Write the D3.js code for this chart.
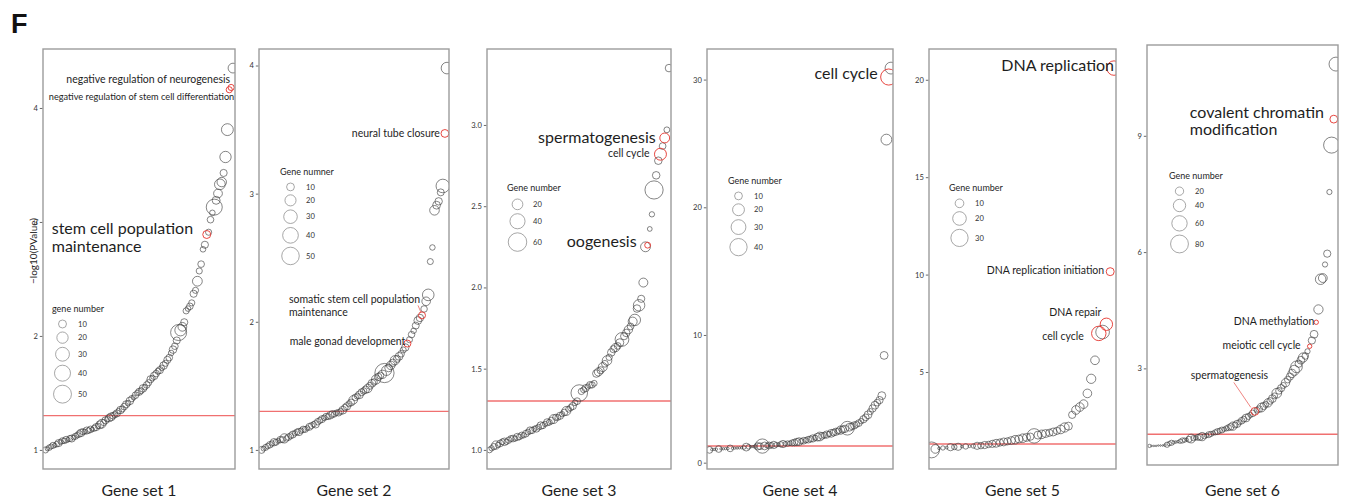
<!DOCTYPE html>
<html>
<head>
<meta charset="utf-8">
<script src="https://cdn.jsdelivr.net/npm/d3@7"></script>
<style>
  body { margin: 0; background: #fff; }
  svg text { font-family: Lato, "Open Sans", "DejaVu Sans", sans-serif; }
</style>
</head>
<body>
<svg id="chart" width="1348" height="501"></svg>
<script>
// ---- data: GO terms ranked by significance, one array pair per gene set ----
const setNames = ["Gene set 1", "Gene set 2", "Gene set 3", "Gene set 4", "Gene set 5", "Gene set 6"];
const pCutoff = 0.05;
const yLabel = "\u2212log10(PValue)";

const logP1 = [1.00,1.01,1.02,1.03,1.04,1.04,1.05,1.06,1.07,1.08,
  1.08,1.09,1.09,1.10,1.10,1.11,1.12,1.13,1.14,1.15,
  1.16,1.16,1.17,1.17,1.18,1.18,1.19,1.20,1.21,1.22,
  1.23,1.24,1.26,1.27,1.28,1.29,1.30,1.31,1.32,1.34,
  1.35,1.36,1.38,1.40,1.41,1.43,1.45,1.46,1.48,1.50,
  1.51,1.52,1.54,1.55,1.57,1.59,1.62,1.63,1.65,1.67,
  1.69,1.70,1.72,1.74,1.76,1.79,1.81,1.85,1.88,1.91,
  1.96,2.03,2.05,2.08,2.12,2.22,2.24,2.26,2.29,2.37,
  2.40,2.48,2.57,2.63,2.76,2.80,2.89,2.91,3.02,3.08,
  3.13,3.19,3.25,3.33,3.35,3.43,3.57,3.81,4.16,4.18,4.35];
const genes1 = [6,3,5,4,6,3,5,8,4,6,
  5,7,3,6,8,4,6,5,7,9,
  6,4,8,5,7,3,6,8,5,10,
  12,6,8,5,9,10,7,6,8,5,
  9,6,7,8,5,9,6,4,7,5,
  8,6,9,5,7,6,8,5,9,7,
  6,8,5,9,6,8,7,5,9,7,
  8,40,20,12,8,6,5,7,6,8,
  6,15,6,7,5,8,10,6,7,5,
  40,10,12,18,14,8,20,22,6,6,15];
const terms1 = [[87, "stem cell population\nmaintenance"],
  [99, "negative regulation of stem cell differentiation"],
  [100, "negative regulation of neurogenesis"]];

const logP2 = [1.00,1.01,1.02,1.03,1.04,1.05,1.06,1.06,1.07,1.08,
  1.08,1.09,1.09,1.10,1.11,1.12,1.13,1.14,1.14,1.15,
  1.16,1.16,1.17,1.18,1.19,1.20,1.20,1.22,1.23,1.24,
  1.25,1.26,1.26,1.27,1.28,1.28,1.29,1.29,1.30,1.31,
  1.33,1.34,1.36,1.37,1.39,1.41,1.42,1.43,1.45,1.46,
  1.47,1.48,1.50,1.52,1.53,1.55,1.57,1.58,1.59,1.60,
  1.62,1.64,1.66,1.68,1.70,1.71,1.73,1.75,1.78,1.80,
  1.83,1.86,1.90,1.93,1.97,2.01,2.03,2.05,2.10,2.16,
  2.21,2.47,2.58,2.87,2.91,2.94,3.01,3.06,3.47,3.98];
const genes2 = [8,4,6,5,7,5,9,6,4,7,
  6,14,5,7,6,8,5,6,9,5,
  7,6,4,8,6,5,9,7,6,8,
  5,7,6,9,8,6,5,7,6,10,
  7,9,6,8,12,7,6,10,8,7,
  9,12,8,10,7,14,9,8,11,60,
  16,10,12,9,14,8,10,7,6,9,
  8,6,7,5,8,10,9,8,7,12,
  22,6,5,15,10,9,8,30,10,22];
const terms2 = [[89, "neural tube closure"],
  [78, "somatic stem cell population\nmaintenance"],
  [71, "male gonad development"]];

const logP3 = [1.00,1.01,1.02,1.03,1.03,1.04,1.05,1.05,1.05,1.06,
  1.07,1.07,1.07,1.08,1.08,1.09,1.09,1.10,1.11,1.12,
  1.12,1.13,1.13,1.14,1.15,1.15,1.16,1.17,1.17,1.18,
  1.19,1.20,1.20,1.21,1.22,1.23,1.24,1.25,1.26,1.27,
  1.29,1.30,1.35,1.36,1.37,1.38,1.39,1.40,1.40,1.41,
  1.47,1.48,1.49,1.51,1.53,1.55,1.57,1.60,1.62,1.63,
  1.64,1.66,1.68,1.70,1.72,1.74,1.76,1.79,1.80,1.87,
  1.89,1.93,2.03,2.25,2.26,2.36,2.45,2.60,2.69,2.78,
  2.82,2.87,2.92,2.97,3.35];
const genes3 = [6,5,7,12,5,8,6,10,5,7,
  6,8,5,9,6,7,5,8,6,9,
  7,5,8,6,10,7,5,9,6,8,
  14,7,6,9,5,8,14,6,7,9,
  6,8,48,7,6,9,5,8,7,6,
  10,12,9,14,8,16,7,10,9,12,
  8,11,33,9,10,12,8,14,23,10,
  23,9,14,17,6,4,5,58,10,10,
  25,8,17,6,10];
const terms3 = [[83, "spermatogenesis"], [81, "cell cycle"], [75, "oogenesis"]];

const logP4 = [1.00,1.02,1.04,1.05,1.07,1.08,1.09,1.10,1.11,1.12,
  1.13,1.14,1.15,1.16,1.17,1.19,1.22,1.24,1.25,1.26,
  1.27,1.28,1.29,1.30,1.31,1.33,1.35,1.37,1.39,1.40,
  1.42,1.44,1.46,1.48,1.50,1.52,1.55,1.58,1.62,1.65,
  1.68,1.72,1.76,1.80,1.85,1.90,1.95,2.00,2.05,2.10,
  2.15,2.20,2.25,2.30,2.36,2.42,2.48,2.55,2.60,2.65,
  2.70,2.78,2.85,2.92,3.00,3.10,3.25,3.40,3.55,3.75,
  4.00,4.25,4.50,4.70,4.90,5.25,8.40,25.3,30.2,30.9];
const genes4 = [8,3,3,3,8,3,3,3,3,8,
  3,3,3,3,3,4,10,5,3,3,
  4,9,8,28,10,5,8,6,9,5,
  4,6,9,5,6,5,7,8,9,10,
  6,8,6,8,7,9,6,10,12,8,
  7,9,6,10,8,9,7,11,9,9,
  26,10,8,9,7,8,6,9,8,10,
  7,9,10,8,9,10,10,17,35,20];
const terms4 = [[79, "cell cycle"]];

const logP5 = [1.00,1.05,1.08,1.10,1.12,1.14,1.15,1.16,1.17,1.18,
  1.19,1.20,1.21,1.22,1.25,1.28,1.31,1.34,1.38,1.41,
  1.44,1.48,1.52,1.56,1.60,1.64,1.68,1.72,1.76,1.80,
  1.84,1.88,1.92,1.98,2.05,2.15,2.22,2.80,3.05,3.20,
  3.35,3.90,4.65,5.60,6.98,7.05,7.45,10.15,20.6];
const genes5 = [26,10,4,5,4,8,6,8,4,6,
  4,5,8,7,8,7,8,9,8,9,
  8,9,10,9,10,9,8,22,9,10,
  9,8,9,8,10,11,9,8,10,10,
  10,10,11,10,22,20,17,9,22];
const terms5 = [[49, "DNA replication"], [48, "DNA replication initiation"],
  [47, "DNA repair"], [45, "cell cycle"]];

const logP6 = [1.00,1.00,1.00,1.00,1.01,1.01,1.01,1.02,1.03,1.06,
  1.08,1.09,1.10,1.11,1.12,1.14,1.15,1.16,1.17,1.19,
  1.20,1.21,1.22,1.23,1.24,1.25,1.27,1.29,1.31,1.33,
  1.35,1.37,1.39,1.41,1.43,1.45,1.47,1.49,1.51,1.54,
  1.57,1.61,1.65,1.69,1.72,1.76,1.80,1.84,1.89,1.92,
  1.95,1.99,2.03,2.07,2.11,2.16,2.22,2.29,2.36,2.42,
  2.49,2.56,2.63,2.71,2.79,2.87,2.95,3.04,3.12,3.21,
  3.28,3.32,3.44,3.57,3.72,3.88,4.19,4.52,5.30,5.33,
  5.68,5.96,7.55,8.76,9.43,10.85];
const genes6 = [6,4,4,4,4,4,4,5,10,8,
  10,6,5,5,8,10,8,6,12,22,
  10,8,12,14,20,10,8,12,10,8,
  10,12,10,12,8,10,12,14,20,12,
  16,10,14,12,18,12,10,14,18,12,
  14,22,16,12,20,14,18,12,26,14,
  16,12,20,14,16,20,28,36,16,18,
  24,14,10,8,16,18,8,24,30,22,
  10,16,10,65,18,50];
const terms6 = [[85, "covalent chromatin\nmodification"], [77, "DNA methylation"],
  [74, "meiotic cell cycle"], [49, "spermatogenesis"]];

// y-axis ticks and size-legend breaks
const yTicks1 = [1, 2, 3, 4];
const yTicks2 = [1, 2, 3, 4];
const yTicks3 = [1.0, 1.5, 2.0, 2.5, 3.0];
const yTicks4 = [0, 10, 20, 30];
const yTicks5 = [5, 10, 15, 20];
const yTicks6 = [3, 6, 9];
const legendTitles = ["gene number", "Gene numner", "Gene number", "Gene number", "Gene number", "Gene number"];
const breaks1 = [10, 20, 30, 40, 50];
const breaks2 = [10, 20, 30, 40, 50];
const breaks3 = [20, 40, 60];
const breaks4 = [10, 20, 30, 40];
const breaks5 = [10, 20, 30];
const breaks6 = [20, 40, 60, 80];

const panels = [
  {logP: logP1, genes: genes1, terms: terms1, ticks: yTicks1, breaks: breaks1},
  {logP: logP2, genes: genes2, terms: terms2, ticks: yTicks2, breaks: breaks2},
  {logP: logP3, genes: genes3, terms: terms3, ticks: yTicks3, breaks: breaks3},
  {logP: logP4, genes: genes4, terms: terms4, ticks: yTicks4, breaks: breaks4},
  {logP: logP5, genes: genes5, terms: terms5, ticks: yTicks5, breaks: breaks5},
  {logP: logP6, genes: genes6, terms: terms6, ticks: yTicks6, breaks: breaks6}
];

// ---- layout and styling ----
const frames = [
  {x0: 43, x1: 235, y0: 49, y1: 469},
  {x0: 259, x1: 449, y0: 49, y1: 469},
  {x0: 487, x1: 671, y0: 49, y1: 469},
  {x0: 707, x1: 893, y0: 49, y1: 469},
  {x0: 929, x1: 1116, y0: 49, y1: 469},
  {x0: 1147, x1: 1338, y0: 45, y1: 465}
];
const tickFormats = ["d", "d", ".1f", "d", "d", "d"];
// size scale per panel: gene-count domain -> radius range (area-proportional)
const sizeScales = [
  {dom: [1, 55], r: [1.2, 9.4]},
  {dom: [1, 55], r: [1.2, 9.2]},
  {dom: [1, 70], r: [1.2, 10]},
  {dom: [3, 45], r: [1.2, 9.2]},
  {dom: [4, 35], r: [1.4, 9.4]},
  {dom: [4, 90], r: [0.8, 9.5]}
];
const legendAt = [[52, 309], [280, 172], [507, 188], [728, 181], [949, 188], [1169, 176]];
const big = 16, small = 10.5;
// label placement relative to the labelled point (parallel to termsN)
const termStyles = [
  [{size: big, anchor: "start", dx: -155, dy: -6, lh: 18},
   {size: 9.2, anchor: "end", dx: 5, dy: 7},
   {size: small, anchor: "end", dx: -1, dy: -8}],
  [{size: small, anchor: "end", dx: -5, dy: 0},
   {size: small, anchor: "start", dx: -133, dy: -16, lh: 12.5, leader: [[-4, -10], [-1, -3]]},
   {size: small, anchor: "end", dx: -2, dy: -2}],
  [{size: big, anchor: "end", dx: -9, dy: -1},
   {size: small, anchor: "end", dx: -11, dy: -1},
   {size: big, anchor: "end", dx: -11, dy: -4}],
  [{size: big, anchor: "end", dx: -11, dy: -4}],
  [{size: big, anchor: "end", dx: 0, dy: -3},
   {size: small, anchor: "end", dx: -6, dy: -1},
   {size: small, anchor: "end", dx: -5, dy: -12},
   {size: small, anchor: "end", dx: -15, dy: 3}],
  [{size: big, anchor: "start", dx: -144, dy: -7, lh: 17.5},
   {size: small, anchor: "end", dx: -2, dy: -1},
   {size: small, anchor: "end", dx: -9, dy: -1},
   {size: small, anchor: "start", dx: -64, dy: -36, leader: [[-21, -29], [-4, -4]]}]
];
const colInk = "#1e1e1e";
const colPoint = "#3c3c3c";
const colHi = "#e4332d";
const colCut = "#f07070";
const colFrame = "#9c9c9c";

const svg = d3.select("#chart");

// panel letter
svg.append("text").attr("x", 11).attr("y", 33)
  .attr("font-size", 27).attr("font-weight", "bold")
  .style("font-family", "'Liberation Sans', Arial, sans-serif")
  .attr("fill", "#111").text("F");

// shared y-axis title
svg.append("text")
  .attr("transform", "translate(33,251) rotate(-90)")
  .attr("text-anchor", "middle").attr("dy", "0.35em")
  .attr("font-size", 10).attr("fill", colInk).text(yLabel);

panels.forEach((p, k) => {
  const f = frames[k];
  const g = svg.append("g");

  const [lo, hi] = d3.extent(p.logP);
  const pad = (hi - lo) * 0.05;
  const y = d3.scaleLinear().domain([lo - pad, hi + pad]).range([f.y1, f.y0]);
  const x = d3.scaleLinear().domain([1, p.logP.length]).range([f.x0 + 2.5, f.x1 - 2]);
  const ss = sizeScales[k];
  const area = d3.scaleLinear().domain(ss.dom).range(ss.r.map(r => r * r));
  const rad = n => Math.sqrt(Math.max(0.2, area(n)));

  const clipId = "clip-" + k;
  g.append("clipPath").attr("id", clipId)
    .append("rect").attr("x", f.x0).attr("y", f.y0)
    .attr("width", f.x1 - f.x0).attr("height", f.y1 - f.y0);
  const inner = g.append("g").attr("clip-path", `url(#${clipId})`);

  // significance cut-off
  const cut = -Math.log10(pCutoff);
  inner.append("line")
    .attr("x1", f.x0).attr("x2", f.x1).attr("y1", y(cut)).attr("y2", y(cut))
    .attr("stroke", colCut).attr("stroke-width", 1.4);

  const hiRanks = new Set(p.terms.map(t => t[0]));
  const pts = p.logP.map((v, i) => ({rank: i + 1, v, n: p.genes[i], hi: hiRanks.has(i + 1)}));

  inner.append("g").selectAll("circle")
    .data(pts.filter(d => !d.hi)).join("circle")
    .attr("cx", d => x(d.rank)).attr("cy", d => y(d.v)).attr("r", d => rad(d.n))
    .attr("fill", "none").attr("stroke", colPoint).attr("stroke-width", 0.7)
    .attr("stroke-opacity", 0.9);

  inner.append("g").selectAll("circle")
    .data(pts.filter(d => d.hi)).join("circle")
    .attr("cx", d => x(d.rank)).attr("cy", d => y(d.v)).attr("r", d => rad(d.n))
    .attr("fill", "none").attr("stroke", colHi).attr("stroke-width", 0.9);

  // term labels
  const labels = inner.append("g");
  p.terms.forEach((t, j) => {
    const st = termStyles[k][j];
    const d = pts[t[0] - 1];
    const px = x(d.rank), py = y(d.v);
    if (st.leader) {
      labels.append("line")
        .attr("x1", px + st.leader[0][0]).attr("y1", py + st.leader[0][1])
        .attr("x2", px + st.leader[1][0]).attr("y2", py + st.leader[1][1])
        .attr("stroke", colHi).attr("stroke-width", 0.6);
    }
    const txt = labels.append("text")
      .attr("font-size", st.size).attr("text-anchor", st.anchor).attr("fill", colInk);
    t[1].split("\n").forEach((line, li) => {
      txt.append("tspan")
        .attr("x", px + st.dx).attr("y", py + st.dy + li * (st.lh || 0))
        .attr("dy", "0.35em").text(line);
    });
  });

  // frame
  g.append("rect").attr("x", f.x0).attr("y", f.y0)
    .attr("width", f.x1 - f.x0).attr("height", f.y1 - f.y0)
    .attr("fill", "none").attr("stroke", colFrame).attr("stroke-width", 1.4);

  // y axis
  const ax = g.append("g").attr("transform", `translate(${f.x0 - 0.7},0)`)
    .call(d3.axisLeft(y).tickValues(p.ticks).tickSize(2.5).tickPadding(2)
      .tickFormat(d3.format(tickFormats[k])));
  ax.select(".domain").remove();
  ax.selectAll(".tick line").attr("stroke", "#444").attr("stroke-width", 0.8);
  ax.selectAll(".tick text").attr("font-size", 7.6).attr("fill", "#333")
    .style("font-family", "Lato, 'Open Sans', sans-serif");

  // size legend
  const [lx, ly] = legendAt[k];
  const lg = g.append("g");
  lg.append("text").attr("x", lx).attr("y", ly).attr("dy", "0.35em")
    .attr("font-size", 9).attr("fill", colInk).text(legendTitles[k]);
  let cy = null, prevR = 0;
  p.breaks.forEach(b => {
    const r = rad(b);
    cy = cy === null ? ly + 11 + r : cy + prevR + r + 4;
    prevR = r;
    lg.append("circle").attr("cx", lx + 10.5).attr("cy", cy).attr("r", r)
      .attr("fill", "none").attr("stroke", "#8a8a8a").attr("stroke-width", 0.75);
    lg.append("text").attr("x", lx + 26).attr("y", cy).attr("dy", "0.35em")
      .attr("font-size", 7.6).attr("fill", "#333").text(b);
  });

  // gene set caption
  g.append("text").attr("x", (f.x0 + f.x1) / 2).attr("y", 496)
    .attr("text-anchor", "middle").attr("font-size", 15.8).attr("fill", colInk)
    .text(setNames[k]);
});
</script>
</body>
</html>
